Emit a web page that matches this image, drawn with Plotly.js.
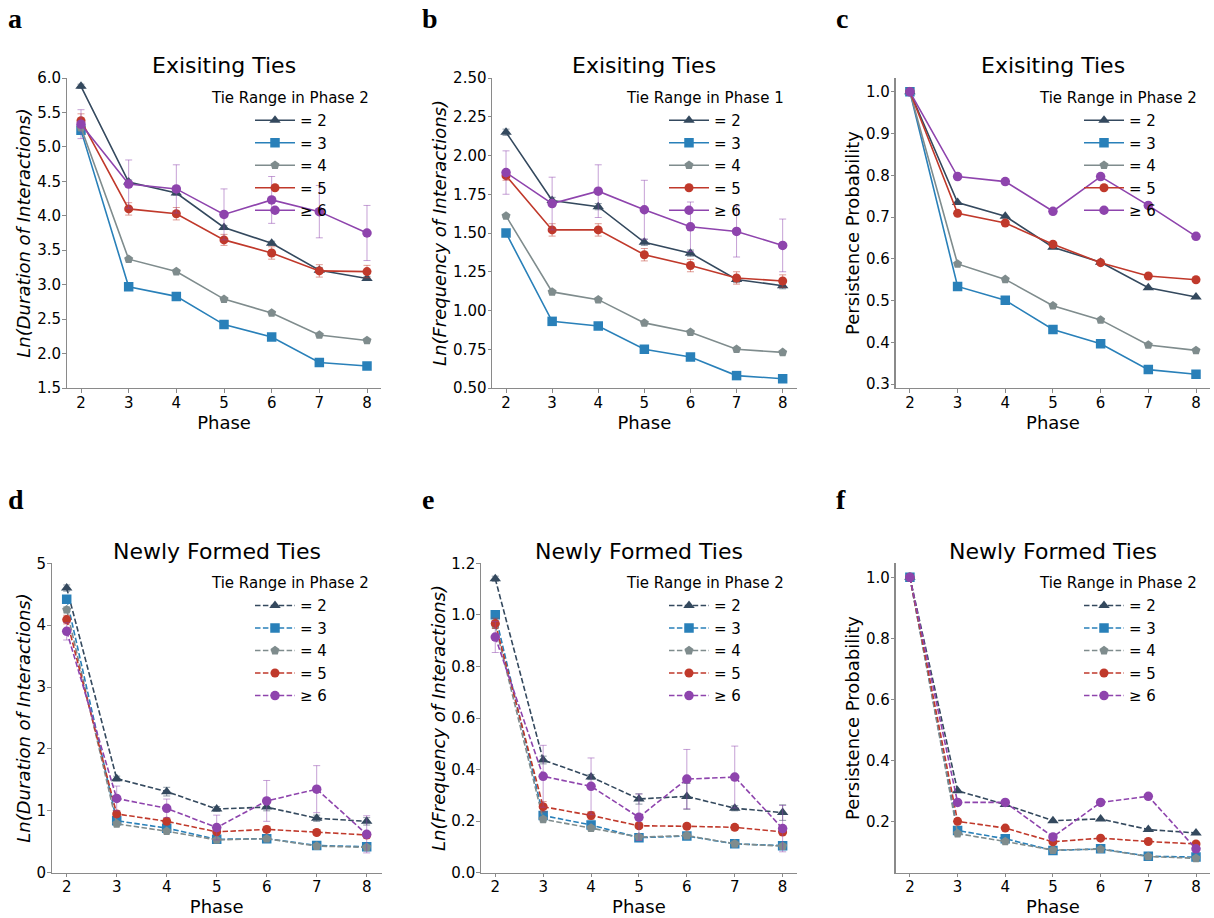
<!DOCTYPE html>
<html>
<head>
<meta charset="utf-8">
<script src="https://cdn.plot.ly/plotly-3.0.1.min.js"></script>
<style>html,body{margin:0;padding:0;background:#fff;}#chart{width:1214px;height:918px;}</style>
</head>
<body>
<div id="chart"></div>
<script>
// ---------------- DATA ----------------
const phases = [2, 3, 4, 5, 6, 7, 8];
const rangeLabels = ['= 2', '= 3', '= 4', '= 5', '≥ 6'];

// (a) Existing ties – Ln(Duration of Interactions)
const durExist_r2 = [5.88, 4.49, 4.33, 3.83, 3.60, 3.21, 3.09];
const durExist_r3 = [5.24, 2.97, 2.83, 2.42, 2.24, 1.87, 1.82];
const durExist_r4 = [5.28, 3.37, 3.19, 2.79, 2.59, 2.27, 2.19];
const durExist_r5 = [5.38, 4.10, 4.03, 3.65, 3.46, 3.20, 3.19];
const durExist_r6 = [5.33, 4.46, 4.39, 4.02, 4.23, 4.06, 3.75];
const durExistErr_r2 = [0.03, 0.03, 0.03, 0.03, 0.03, 0.04, 0.03];
const durExistErr_r3 = [0.04, 0.02, 0.02, 0.02, 0.02, 0.02, 0.02];
const durExistErr_r4 = [0.04, 0.02, 0.02, 0.02, 0.02, 0.02, 0.02];
const durExistErr_r5 = [0.10, 0.09, 0.09, 0.08, 0.09, 0.09, 0.09];
const durExistErr_r6 = [0.21, 0.35, 0.35, 0.37, 0.34, 0.38, 0.40];

// (b) Existing ties – Ln(Frequency of Interactions)
const freqExist_r2 = [2.15, 1.71, 1.67, 1.44, 1.37, 1.20, 1.16];
const freqExist_r3 = [1.50, 0.93, 0.90, 0.75, 0.70, 0.58, 0.56];
const freqExist_r4 = [1.61, 1.12, 1.07, 0.92, 0.86, 0.75, 0.73];
const freqExist_r5 = [1.87, 1.52, 1.52, 1.36, 1.29, 1.21, 1.19];
const freqExist_r6 = [1.89, 1.69, 1.77, 1.65, 1.54, 1.51, 1.42];
const freqExistErr_r2 = [0.02, 0.02, 0.02, 0.02, 0.02, 0.02, 0.02];
const freqExistErr_r3 = [0.01, 0.01, 0.01, 0.01, 0.01, 0.01, 0.01];
const freqExistErr_r4 = [0.01, 0.01, 0.01, 0.01, 0.01, 0.01, 0.01];
const freqExistErr_r5 = [0.03, 0.04, 0.04, 0.04, 0.04, 0.04, 0.04];
const freqExistErr_r6 = [0.14, 0.17, 0.17, 0.19, 0.16, 0.165, 0.17];

// (c) Existing ties – Persistence Probability
const persExist_r2 = [1.0, 0.735, 0.702, 0.628, 0.592, 0.531, 0.509];
const persExist_r3 = [1.0, 0.534, 0.501, 0.431, 0.397, 0.335, 0.324];
const persExist_r4 = [1.0, 0.588, 0.551, 0.488, 0.454, 0.394, 0.381];
const persExist_r5 = [1.0, 0.709, 0.686, 0.635, 0.591, 0.559, 0.550];
const persExist_r6 = [1.0, 0.797, 0.785, 0.714, 0.797, 0.728, 0.654];

// (d) Newly formed ties – Ln(Duration of Interactions)
const durNew_r2 = [4.60, 1.52, 1.31, 1.03, 1.06, 0.88, 0.83];
const durNew_r3 = [4.42, 0.84, 0.72, 0.54, 0.55, 0.44, 0.42];
const durNew_r4 = [4.25, 0.79, 0.67, 0.53, 0.55, 0.43, 0.41];
const durNew_r5 = [4.09, 0.95, 0.83, 0.66, 0.70, 0.65, 0.61];
const durNew_r6 = [3.90, 1.20, 1.04, 0.73, 1.16, 1.35, 0.62];
const durNewErr_r2 = [0.05, 0.04, 0.07, 0.04, 0.06, 0.05, 0.06];
const durNewErr_r3 = [0.05, 0.03, 0.03, 0.02, 0.02, 0.02, 0.02];
const durNewErr_r4 = [0.05, 0.03, 0.03, 0.02, 0.02, 0.02, 0.02];
const durNewErr_r5 = [0.07, 0.05, 0.05, 0.04, 0.05, 0.04, 0.05];
const durNewErr_r6 = [0.14, 0.20, 0.15, 0.20, 0.33, 0.38, 0.30];

// (e) Newly formed ties – Ln(Frequency of Interactions)
const freqNew_r2 = [1.14, 0.437, 0.371, 0.286, 0.296, 0.250, 0.233];
const freqNew_r3 = [1.00, 0.222, 0.185, 0.136, 0.142, 0.112, 0.105];
const freqNew_r4 = [0.96, 0.207, 0.173, 0.138, 0.144, 0.112, 0.103];
const freqNew_r5 = [0.967, 0.256, 0.222, 0.182, 0.180, 0.176, 0.158];
const freqNew_r6 = [0.914, 0.374, 0.335, 0.215, 0.363, 0.371, 0.171];
const freqNewErr_r2 = [0.01, 0.015, 0.01, 0.02, 0.05, 0.01, 0.03];
const freqNewErr_r3 = [0.01, 0.01, 0.01, 0.01, 0.01, 0.01, 0.01];
const freqNewErr_r4 = [0.01, 0.01, 0.01, 0.01, 0.01, 0.01, 0.01];
const freqNewErr_r5 = [0.02, 0.02, 0.015, 0.01, 0.01, 0.01, 0.01];
const freqNewErr_r6 = [0.06, 0.12, 0.11, 0.09, 0.115, 0.12, 0.09];

// (f) Newly formed ties – Persistence Probability
const persNew_r2 = [1.0, 0.302, 0.257, 0.204, 0.210, 0.175, 0.164];
const persNew_r3 = [1.0, 0.172, 0.145, 0.107, 0.112, 0.088, 0.085];
const persNew_r4 = [1.0, 0.162, 0.136, 0.108, 0.111, 0.087, 0.081];
const persNew_r5 = [1.0, 0.202, 0.180, 0.135, 0.147, 0.136, 0.128];
const persNew_r6 = [1.0, 0.264, 0.264, 0.151, 0.264, 0.284, 0.112];

// ---------------- STYLE ----------------
const W = 1214, H = 918;
const fx = v => v / W;
const fy = v => 1 - v / H;
const colors = ['#34495e', '#2980b9', '#7f8c8d', '#c0392b', '#8e44ad'];
const errColors = ['rgba(52,73,94,0.55)', 'rgba(41,128,185,0.5)', 'rgba(127,140,141,0.5)', 'rgba(192,57,43,0.5)', 'rgba(142,68,173,0.5)'];
const symbols = ['triangle-up', 'square', 'pentagon', 'circle', 'circle'];
const markerSizes = [10, 9.5, 9.5, 9, 9.5];
const FONT = 'DejaVu Sans, Liberation Sans, sans-serif';
const spine = '#8a8a8a';

const panels = [
  { series: [durExist_r2, durExist_r3, durExist_r4, durExist_r5, durExist_r6],
    errs: [durExistErr_r2, durExistErr_r3, durExistErr_r4, durExistErr_r5, durExistErr_r6],
    yRange: [1.5, 6.0], dtick: 0.5, fmt: '.1f', title: 'Exisiting Ties',
    ytitle: '<i>Ln(Duration of Interactions)</i>', legTitle: 'Tie Range in Phase 2',
    dashed: false, box: [66.7, 381.3, 78, 388], legX: 250, legTitleX: 290, letter: 'a', letterX: 6 },
  { series: [freqExist_r2, freqExist_r3, freqExist_r4, freqExist_r5, freqExist_r6],
    errs: [freqExistErr_r2, freqExistErr_r3, freqExistErr_r4, freqExistErr_r5, freqExistErr_r6],
    yRange: [0.5, 2.5], dtick: 0.25, fmt: '.2f', title: 'Exisiting Ties',
    ytitle: '<i>Ln(Frequency of Interactions)</i>', legTitle: 'Tie Range in Phase 1',
    dashed: false, box: [492.2, 796.5, 78, 388], legX: 664, legTitleX: 705, letter: 'b', letterX: 420 },
  { series: [persExist_r2, persExist_r3, persExist_r4, persExist_r5, persExist_r6],
    errs: null,
    yRange: [0.291, 1.033], dtick: 0.1, tick0: 0.3, fmt: '.1f', title: 'Exisiting Ties',
    ytitle: 'Persistence Probability', legTitle: 'Tie Range in Phase 2',
    dashed: false, box: [895.6, 1210.3, 78, 388], legX: 1079, legTitleX: 1118, letter: 'c', letterX: 834 },
  { series: [durNew_r2, durNew_r3, durNew_r4, durNew_r5, durNew_r6],
    errs: [durNewErr_r2, durNewErr_r3, durNewErr_r4, durNewErr_r5, durNewErr_r6],
    yRange: [0, 5], dtick: 1, fmt: 'd', title: 'Newly Formed Ties',
    ytitle: '<i>Ln(Duration of Interactions)</i>', legTitle: 'Tie Range in Phase 2',
    dashed: true, box: [51.7, 381.7, 563.3, 872.7], legX: 250, legTitleX: 290, letter: 'd', letterX: 6 },
  { series: [freqNew_r2, freqNew_r3, freqNew_r4, freqNew_r5, freqNew_r6],
    errs: [freqNewErr_r2, freqNewErr_r3, freqNewErr_r4, freqNewErr_r5, freqNewErr_r6],
    yRange: [0, 1.2], dtick: 0.2, fmt: '.1f', title: 'Newly Formed Ties',
    ytitle: '<i>Ln(Frequency of Interactions)</i>', legTitle: 'Tie Range in Phase 2',
    dashed: true, box: [480.9, 797, 563.3, 872.7], legX: 664, legTitleX: 705, letter: 'e', letterX: 420 },
  { series: [persNew_r2, persNew_r3, persNew_r4, persNew_r5, persNew_r6],
    errs: null,
    yRange: [0.034, 1.046], dtick: 0.2, tick0: 0.2, fmt: '.1f', title: 'Newly Formed Ties',
    ytitle: 'Persistence Probability', legTitle: 'Tie Range in Phase 2',
    dashed: true, box: [895.6, 1210.3, 563.3, 872.7], legX: 1079, legTitleX: 1118, letter: 'f', letterX: 834 }
];

const traces = [];
const layout = {
  width: W, height: H,
  margin: { l: 0, r: 0, t: 0, b: 0 },
  paper_bgcolor: '#ffffff', plot_bgcolor: '#ffffff',
  font: { family: FONT, color: '#000000', size: 15 },
  showlegend: true,
  annotations: []
};

panels.forEach((p, i) => {
  const n = i === 0 ? '' : String(i + 1);
  const xa = 'x' + n, ya = 'y' + n;
  const legId = 'legend' + n;
  const top = p.box[2];
  p.series.forEach((vals, k) => {
    const t = {
      type: 'scatter', mode: 'lines+markers',
      x: phases, y: vals, name: rangeLabels[k],
      xaxis: xa, yaxis: ya, legend: legId,
      line: { color: colors[k], width: 1.6, dash: p.dashed ? '5.5px,2.4px' : 'solid' },
      marker: { symbol: symbols[k], size: markerSizes[k], color: colors[k], line: { width: 0 } },
      hoverinfo: 'x+y+name'
    };
    if (p.errs) {
      t.error_y = { type: 'data', array: p.errs[k], visible: true, color: errColors[k], thickness: 1, width: 3.5 };
    }
    traces.push(t);
  });

  layout['xaxis' + n] = {
    domain: [fx(p.box[0]), fx(p.box[1])], anchor: ya,
    range: [1.7, 8.3], tickmode: 'linear', tick0: 2, dtick: 1,
    showgrid: false, zeroline: false, showline: true, linecolor: spine, linewidth: 1.2,
    ticks: 'outside', ticklen: 3.5, tickwidth: 1, tickcolor: spine, ticklabelstandoff: -3,
    tickfont: { family: FONT, size: 15, color: '#000' },
    title: { text: 'Phase', font: { family: FONT, size: 18, color: '#000' }, standoff: 0 },
    automargin: false, fixedrange: true
  };
  layout['yaxis' + n] = {
    domain: [fy(p.box[3]), fy(p.box[2])], anchor: xa,
    range: p.yRange, tickmode: 'linear', tick0: p.tick0 !== undefined ? p.tick0 : p.yRange[0], dtick: p.dtick,
    tickformat: p.fmt,
    showgrid: false, zeroline: false, showline: true, linecolor: spine, linewidth: 1.2,
    ticks: 'outside', ticklen: 3.5, tickwidth: 1, tickcolor: spine, ticklabelstandoff: -2,
    tickfont: { family: FONT, size: 15, color: '#000' },
    title: { text: p.ytitle, font: { family: FONT, size: 18, color: '#000' }, standoff: 1 },
    automargin: false, fixedrange: true
  };
  layout[legId] = {
    x: fx(p.legX), xanchor: 'left',
    y: fy(top + 26), yanchor: 'top',
    bgcolor: 'rgba(0,0,0,0)', borderwidth: 0,
    font: { family: FONT, size: 15, color: '#000' },
    itemwidth: 40, traceorder: 'normal'
  };
  const cx = (p.box[0] + p.box[1]) / 2;
  layout.annotations.push({
    xref: 'paper', yref: 'paper', x: fx(cx), y: fy(top - 12), xanchor: 'center', yanchor: 'middle',
    text: p.title, showarrow: false, font: { family: FONT, size: 22, color: '#000' }
  });
  layout.annotations.push({
    xref: 'paper', yref: 'paper', x: fx(p.legTitleX), y: fy(top + 20), xanchor: 'center', yanchor: 'middle',
    text: p.legTitle, showarrow: false, font: { family: FONT, size: 15, color: '#000' }
  });
  layout.annotations.push({
    xref: 'paper', yref: 'paper', x: fx(p.letterX), y: fy(i < 3 ? 18 : 499), xanchor: 'left', yanchor: 'middle',
    text: '<b>' + p.letter + '</b>', showarrow: false,
    font: { family: 'Liberation Serif, DejaVu Serif, serif', size: 28, color: '#000' }
  });
});

Plotly.newPlot('chart', traces, layout, { staticPlot: true, displayModeBar: false });
</script>
</body>
</html>
